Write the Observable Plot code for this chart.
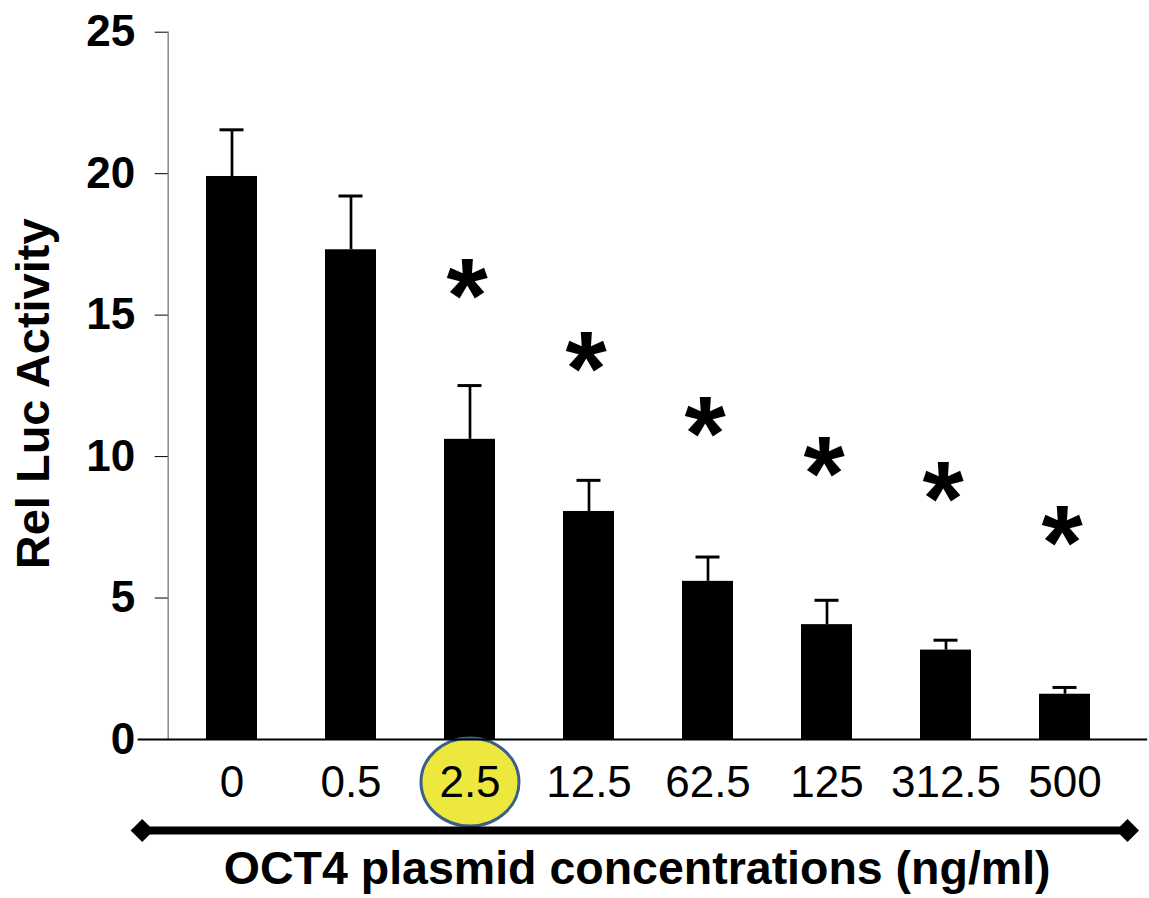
<!DOCTYPE html>
<html><head><meta charset="utf-8">
<script src="https://cdn.jsdelivr.net/npm/d3@7"></script>
<script src="https://cdn.jsdelivr.net/npm/@observablehq/plot@0.6"></script>
<style>html,body{margin:0;padding:0;background:#fff}</style>
</head><body><div id="chart"></div>
<script>
const concentrations = ["0", "0.5", "2.5", "12.5", "62.5", "125", "312.5", "500"];
const meanActivity = [19.9, 17.31, 10.61, 8.06, 5.59, 4.06, 3.16, 1.60];
const errorSD = [1.65, 1.9, 1.9, 1.1, 0.86, 0.86, 0.35, 0.24];
const significant = [false, false, true, true, true, true, true, true];
const asteriskLevel = [null, null, 16.16, 13.58, 11.28, 9.87, 8.99, 7.43];
const yTicks = [0, 5, 10, 15, 20, 25];
const highlighted = ["2.5"];
const yTitle = "Rel Luc Activity";
const xTitle = "OCT4 plasmid concentrations (ng/ml)";

const data = concentrations.map((c, i) => ({
  c, mean: meanActivity[i], sd: errorSD[i], star: significant[i], starY: asteriskLevel[i]
}));

const ellipse = {draw(ctx, size) {
  const r = Math.sqrt(size / Math.PI), rx = r, ry = r * 0.9, k = 0.5523;
  ctx.moveTo(rx, 0);
  ctx.bezierCurveTo(rx, ry * k, rx * k, ry, 0, ry);
  ctx.bezierCurveTo(-rx * k, ry, -rx, ry * k, -rx, 0);
  ctx.bezierCurveTo(-rx, -ry * k, -rx * k, -ry, 0, -ry);
  ctx.bezierCurveTo(rx * k, -ry, rx, -ry * k, rx, 0);
  ctx.closePath();
}};
const diamond = {draw(ctx, size) {
  const r = Math.sqrt(size / Math.PI);
  ctx.moveTo(0, -r); ctx.lineTo(r, 0); ctx.lineTo(0, r); ctx.lineTo(-r, 0); ctx.closePath();
}};

const chart = Plot.plot({
  width: 1149, height: 898,
  marginTop: 31.7, marginBottom: 159, marginLeft: 167.7, marginRight: 21.3,
  x: {type: "band", domain: concentrations, paddingInner: 0.575, paddingOuter: 0.288},
  y: {domain: [0, 25]},
  style: {fontFamily: "'Liberation Sans', Arial, sans-serif", background: "#fff", color: "#000", overflow: "visible"},
  marks: [
    Plot.frame({anchor: "left", stroke: "#888", strokeWidth: 1.5}),
    Plot.barY(data, {x: "c", y: "mean", fill: "#000"}),
    Plot.ruleX(data, {x: "c", y1: "mean", y2: d => d.mean + d.sd, strokeWidth: 2.7}),
    Plot.tickY(data, {x: "c", y: d => d.mean + d.sd, strokeWidth: 3, insetLeft: 13.5, insetRight: 13.5}),
    Plot.text(data.filter(d => d.star), {x: "c", y: "starY", text: () => "*", fontSize: 106, fontWeight: "bold", lineAnchor: "middle", dy: 16, dx: -3}),
    Plot.dot(highlighted, {x: d => d, frameAnchor: "bottom", dy: 42.5, r: 49, symbol: ellipse, fill: "#ece83e", stroke: "#3c5e8b", strokeWidth: 3}),
    Plot.ruleY([0], {insetLeft: -30, insetRight: -19.5, strokeWidth: 2}),
    Plot.axisY({ticks: yTicks, tickSize: 13, tickPadding: 20, fontSize: 44, fontWeight: "bold", label: null}),
    Plot.axisX({tickSize: 0, tickPadding: 26, fontSize: 44, label: null}),
    Plot.text([yTitle], {frameAnchor: "left", rotate: -90, dx: -134, dy: 8, fontSize: 47, fontWeight: "bold", textAnchor: "middle", lineAnchor: "middle"}),
    Plot.text([xTitle], {frameAnchor: "bottom", dy: 130, dx: -11, fontSize: 46.5, fontWeight: "bold", textAnchor: "middle", lineAnchor: "middle"}),
    Plot.ruleY([0], {dy: 91, insetLeft: -26, insetRight: 0.7, strokeWidth: 8}),
    Plot.dot([0], {frameAnchor: "bottom-left", dx: -26, dy: 91, r: 11.5, symbol: diamond, fill: "#000"}),
    Plot.dot([0], {frameAnchor: "bottom-right", dx: -0.7, dy: 91, r: 11.5, symbol: diamond, fill: "#000"})
  ]
});
document.getElementById("chart").appendChild(chart);
</script>
</body></html>
